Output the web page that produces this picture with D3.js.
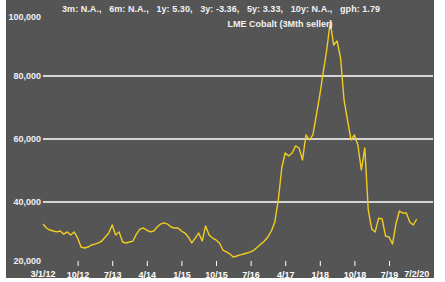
<!DOCTYPE html>
<html>
<head>
<meta charset="utf-8">
<script src="https://cdn.jsdelivr.net/npm/d3@7"></script>
<style>
    body { margin: 0; background: #fff; }
    text { font-family: Arial, "Liberation Sans", sans-serif; font-weight: bold; }
</style>
</head>
<body>
<svg id="chart"></svg>
<script>
// LME cobalt 3 month seller, one value per step (10 steps between date ticks)
let prices = [
    33000, 31750, 31100, 30800, 30500, 30800, 29800, 30500, 29500, 30500,
    28600, 25700, 25400, 25700, 26350, 26650, 27000, 27600, 28900, 30150,
    32700, 29500, 30500, 27300, 27000, 27300, 27600, 29800, 31400, 31750,
    31100, 30500, 30800, 32050, 33000, 33350, 33000, 32050, 31750, 31750,
    30800, 30150, 28900, 27000, 28550, 30150, 27600, 32400, 29500, 28550,
    27950, 27000, 24750, 24150, 23500, 22550, 22850, 23200, 23500, 23800,
    24150, 24750, 25700, 26650, 27600, 28900, 30800, 33650, 40650, 50800,
    55550, 54600, 55550, 57800, 57150, 53350, 61300, 59700, 61300, 67600,
    74000, 81300, 88250, 97150, 89850, 91100, 85700, 72400, 66050, 59700,
    61300, 58100, 50150, 57150, 37450, 31450, 30500, 34900, 34600, 29200,
    28900, 26650, 33000, 37150, 36500, 36500, 33650, 32700, 34600
]

let tickSteps = [10, 20, 30, 40, 50, 60, 70, 80, 90, 100]
let tickLabels = ['10/12', '7/13', '4/14', '1/15', '10/15', '7/16', '4/17', '1/18', '10/18', '7/19']
let firstDate = '3/1/12'
let lastDate = '7/2/20'

let yTicks = [20000, 40000, 60000, 80000, 100000]
let gridValues = [40000, 60000, 80000]

let header = '3m: N.A.,   6m: N.A.,   1y: 5.30,   3y: -3.36,   5y: 3.33,   10y: N.A.,   gph: 1.79'
let title = 'LME Cobalt (3Mth seller)'

let width = 445
let height = 282
let plotLeft = 43
let plotRight = 434
let plotTop = 13
let plotBottom = 265

let xScale, yScale
let svg = d3.select('#chart').attr('width', width).attr('height', height)

function drawScale(){
    // axis runs a few steps past the last price
    xScale = d3.scaleLinear().domain([0, 113]).range([plotLeft, plotRight])
    yScale = d3.scaleLinear().domain([20000, 100000]).range([plotBottom, plotTop])
}

function drawBackground(){
    svg.append('rect')
        .attr('x', 6).attr('y', 0)
        .attr('width', 428).attr('height', 278)
        .attr('fill', '#555555')
}

function drawAxis(){
    svg.selectAll('.grid')
        .data(gridValues)
        .enter()
        .append('line')
        .attr('class', 'grid')
        .attr('x1', plotLeft).attr('x2', plotRight - 1)
        .attr('y1', d => yScale(d)).attr('y2', d => yScale(d))
        .attr('stroke', '#ffffff')
        .attr('stroke-width', 1.5)

    svg.selectAll('.ylab')
        .data(yTicks)
        .enter()
        .append('text')
        .attr('class', 'ylab')
        .attr('x', 41)
        .attr('y', function(d){
            // end labels sit inside the frame
            if (d === 100000) return yScale(d) + 4
            if (d === 20000) return yScale(d) - 4
            return yScale(d)
        })
        .attr('dy', '0.35em')
        .attr('text-anchor', 'end')
        .attr('font-size', 9)
        .attr('fill', '#eeeef6')
        .text(d => d3.format(',')(d))

    let xAxis = d3.axisBottom(xScale)
        .tickValues(tickSteps)
        .tickFormat((d, i) => tickLabels[i])
        .tickSize(5)
        .tickPadding(6)
    let g = svg.append('g').call(xAxis)
        .attr('transform', 'translate(0,' + (plotBottom - 4) + ')')
    g.select('.domain').remove()
    g.selectAll('line').attr('stroke', '#ffffff')
    g.selectAll('text')
        .attr('font-size', 9)
        .attr('font-family', 'Arial, "Liberation Sans", sans-serif')
        .attr('fill', '#ffffff')

    svg.append('text')
        .attr('x', xScale(0)).attr('y', 277)
        .attr('text-anchor', 'middle')
        .attr('font-size', 9).attr('fill', '#ffffff')
        .text(firstDate)
    svg.append('text')
        .attr('x', xScale(prices.length - 1)).attr('y', 277)
        .attr('text-anchor', 'middle')
        .attr('font-size', 9).attr('fill', '#ffffff')
        .text(lastDate)
}

function drawLine(){
    let line = d3.line()
        .x((d, i) => xScale(i))
        .y(d => yScale(d))
    svg.append('path')
        .datum(prices)
        .attr('d', line)
        .attr('fill', 'none')
        .attr('stroke', '#f2cc1f')
        .attr('stroke-width', 1.4)
        .attr('stroke-linejoin', 'round')
}

function drawTitles(){
    svg.append('text')
        .attr('x', 62).attr('y', 12)
        .attr('font-size', 9).attr('fill', '#f2f2f2')
        .attr('textLength', 318).attr('lengthAdjust', 'spacing')
        .style('white-space', 'pre')
        .text(header)
    svg.append('text')
        .attr('x', 280).attr('y', 27)
        .attr('text-anchor', 'middle')
        .attr('font-size', 9).attr('fill', '#f2f2f2')
        .text(title)
}

drawScale()
drawBackground()
drawAxis()
drawLine()
drawTitles()
</script>
</body>
</html>
